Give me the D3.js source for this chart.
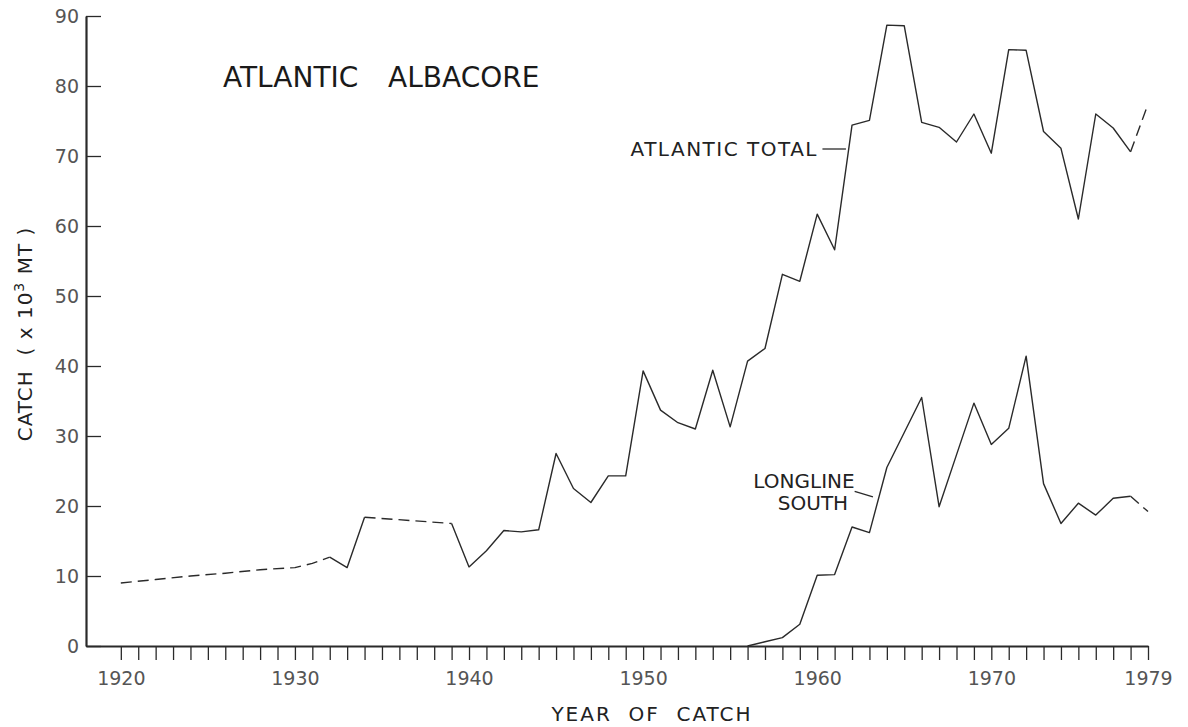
<!DOCTYPE html>
<html>
<head>
<meta charset="utf-8">
<script src="https://cdn.jsdelivr.net/npm/d3@7"></script>
<style>
  body { margin: 0; background: #fff; }
  text { font-family: "DejaVu Sans", sans-serif; }
</style>
</head>
<body>
<div id="chart-area"></div>
<script>

// Atlantic total catch (x 10^3 MT)
var totalYears = [1920,1922,1924,1926,1928,1930,1931,1932,1933,1934,1939,1940,1941,1942,1943,1944,
                  1945,1946,1947,1948,1949,1950,1951,1952,1953,1954,1955,1956,1957,1958,1959,
                  1960,1961,1962,1963,1964,1965,1966,1967,1968,1969,1970,1971,1972,1973,1974,
                  1975,1976,1977,1978,1979];
var totalCatch = [9.0,9.5,10.0,10.4,10.9,11.2,11.8,12.7,11.2,18.4,17.5,11.3,13.6,16.5,16.3,16.6,
                  27.5,22.5,20.5,24.3,24.3,39.3,33.7,31.9,31.0,39.4,31.3,40.7,42.5,53.1,52.1,
                  61.7,56.6,74.4,75.1,88.7,88.6,74.8,74.1,72.0,76.0,70.4,85.2,85.1,73.5,71.1,
                  61.0,76.0,74.0,70.6,77.4];
// year spans drawn dashed (estimates)
var totalDashed = [[1920,1932],[1934,1939],[1978,1979]];

// Longline south
var longYears = [1956,1957,1958,1959,1960,1961,1962,1963,1964,1965,1966,1967,1968,1969,
                 1970,1971,1972,1973,1974,1975,1976,1977,1978,1979];
var longCatch = [0,0.6,1.2,3.1,10.1,10.2,17.0,16.2,25.5,30.5,35.5,19.9,27.3,34.7,
                 28.8,31.1,41.4,23.2,17.5,20.4,18.7,21.1,21.4,19.2];
var longDashed = [[1978,1979]];

var yTicks = [0,10,20,30,40,50,60,70,80,90];
var xLabels = [1920,1930,1940,1950,1960,1970,1979];

var W = 1188, H = 727;
var ink = "#2a2a2a";

var svg = d3.select("#chart-area").append("svg")
    .attr("width", W)
    .attr("height", H);

var x = d3.scaleLinear().domain([1918, 1979]).range([86, 1148]);
var y = d3.scaleLinear().domain([0, 90]).range([646, 16]);

// axes
var yAxis = d3.axisLeft(y).tickValues(yTicks).tickSizeInner(-15).tickSizeOuter(0).tickPadding(7);
var xAxis = d3.axisBottom(x).tickValues(d3.range(1920, 1980)).tickSizeInner(14).tickSizeOuter(0)
    .tickPadding(12)
    .tickFormat(function(d){ return xLabels.indexOf(d) >= 0 ? d : ""; });

var yAxisEl = svg.append("g").attr("transform", "translate(" + x(1918) + ",0)").call(yAxis);
var xAxisEl = svg.append("g").attr("transform", "translate(0," + y(0) + ")").call(xAxis);

[yAxisEl, xAxisEl].forEach(function(g){
  g.select(".domain").attr("stroke", ink).attr("stroke-width", 2.2);
  g.selectAll(".tick line").attr("stroke", ink).attr("stroke-width", 1.3);
  g.selectAll(".tick text").attr("fill", "#555").attr("font-size", 19)
    .attr("font-family", "DejaVu Sans, sans-serif");
});

// split a series into solid / dashed runs
function runs(years, vals, dashed){
  var out = [];
  for (var i = 0; i < years.length - 1; i++){
    var isDash = dashed.some(function(r){ return years[i] >= r[0] && years[i+1] <= r[1]; });
    var last = out[out.length - 1];
    if (last && last.dash === isDash){
      last.pts.push([years[i+1], vals[i+1]]);
    } else {
      out.push({dash: isDash, pts: [[years[i], vals[i]], [years[i+1], vals[i+1]]]});
    }
  }
  return out;
}

var line = d3.line()
    .x(function(d){ return x(d[0]); })
    .y(function(d){ return y(d[1]); });

function drawSeries(years, vals, dashed){
  svg.append("g").selectAll("path")
    .data(runs(years, vals, dashed))
    .enter().append("path")
      .attr("d", function(d){ return line(d.pts); })
      .attr("fill", "none")
      .attr("stroke", ink)
      .attr("stroke-width", 1.4)
      .attr("stroke-linejoin", "round")
      .attr("stroke-dasharray", function(d){ return d.dash ? "11,6" : null; });
}

drawSeries(longYears, longCatch, longDashed);
drawSeries(totalYears, totalCatch, totalDashed);

// title (two words, wide gap)
svg.append("text")
    .attr("x", 223).attr("y", 87)
    .attr("font-size", 28)
    .attr("fill", "#1a1a1a")
    .text("ATLANTIC");
svg.append("text")
    .attr("x", 388).attr("y", 87)
    .attr("font-size", 28)
    .attr("fill", "#1a1a1a")
    .text("ALBACORE");

// series labels
svg.append("text")
    .attr("x", 818).attr("y", 156)
    .attr("text-anchor", "end")
    .attr("font-size", 20)
    .attr("letter-spacing", 1.5)
    .attr("fill", "#222")
    .text("ATLANTIC TOTAL");
svg.append("line")
    .attr("x1", x(1960.3)).attr("x2", x(1961.65))
    .attr("y1", y(71)).attr("y2", y(71))
    .attr("stroke", ink).attr("stroke-width", 1.3);

svg.append("text")
    .attr("x", 804).attr("y", 488)
    .attr("text-anchor", "middle")
    .attr("font-size", 20)
    .attr("fill", "#222")
    .text("LONGLINE");
svg.append("text")
    .attr("x", 813).attr("y", 510)
    .attr("text-anchor", "middle")
    .attr("font-size", 20)
    .attr("fill", "#222")
    .text("SOUTH");
svg.append("line")
    .attr("x1", x(1962.15)).attr("x2", x(1963.2))
    .attr("y1", y(22.1)).attr("y2", y(21.3))
    .attr("stroke", ink).attr("stroke-width", 1.3);

// axis titles
svg.append("text")
    .attr("x", 652).attr("y", 721)
    .attr("text-anchor", "middle")
    .attr("font-size", 20)
    .attr("letter-spacing", 2)
    .attr("fill", "#222")
    .style("white-space", "pre")
    .text("YEAR  OF  CATCH");

var yLab = svg.append("text")
    .attr("transform", "translate(32,334) rotate(-90)")
    .attr("text-anchor", "middle")
    .attr("font-size", 20)
    .attr("letter-spacing", 1)
    .attr("fill", "#222")
    .style("white-space", "pre");
yLab.append("tspan").text("CATCH  ( x 10");
yLab.append("tspan").attr("dy", -8).attr("font-size", 14).text("3");
yLab.append("tspan").attr("dy", 8).text(" MT )");

</script>
</body>
</html>
